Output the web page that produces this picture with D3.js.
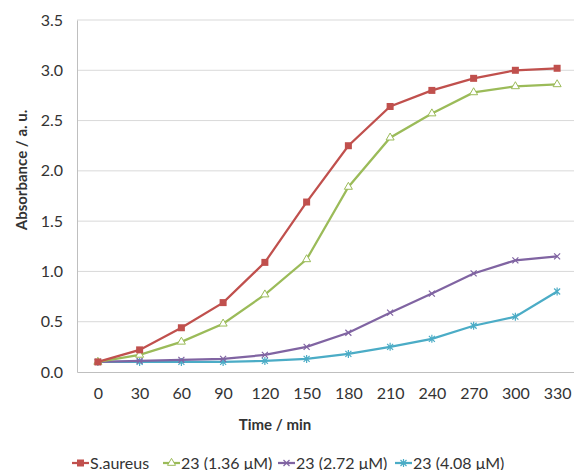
<!DOCTYPE html>
<html>
<head>
<meta charset="utf-8">
<script src="https://cdn.jsdelivr.net/npm/d3@7"></script>
<style>
  body { margin: 0; background: #fff; }
  text { font-family: Lato, "Open Sans", sans-serif; fill: #333; }
</style>
</head>
<body>
<svg id="chart" width="574" height="470"></svg>
<script>
// data
var times = [0, 30, 60, 90, 120, 150, 180, 210, 240, 270, 300, 330];
var saureus = [0.10, 0.22, 0.44, 0.69, 1.09, 1.69, 2.25, 2.64, 2.80, 2.92, 3.00, 3.02];
var c136 = [0.10, 0.17, 0.30, 0.48, 0.77, 1.12, 1.84, 2.33, 2.57, 2.78, 2.84, 2.86];
var c272 = [0.10, 0.11, 0.12, 0.13, 0.17, 0.25, 0.39, 0.59, 0.78, 0.98, 1.11, 1.15];
var c408 = [0.10, 0.10, 0.10, 0.10, 0.11, 0.13, 0.18, 0.25, 0.33, 0.46, 0.55, 0.80];
var seriesNames = ["S.aureus", "23 (1.36 \u03bcM)", "23 (2.72 \u03bcM)", "23 (4.08 \u03bcM)"];
var yTicks = [0, 0.5, 1.0, 1.5, 2.0, 2.5, 3.0, 3.5];

var colors = ["#C0504D", "#9BBB59", "#8064A2", "#4BACC6"];
var markers = ["square", "triangle", "cross", "star"];
var allSeries = [saureus, c136, c272, c408];

var svg = d3.select("#chart");
var plotL = 77, plotR = 578, plotT = 20, plotB = 372;

var x = d3.scalePoint().domain(times).range([plotL, plotR]).padding(0.5);
var y = d3.scaleLinear().domain([0, 3.5]).range([plotB, plotT]);

// gridlines
svg.append("g").selectAll("line").data(yTicks.slice(1)).enter().append("line")
  .attr("x1", plotL).attr("x2", 574)
  .attr("y1", function (d) { return y(d); }).attr("y2", function (d) { return y(d); })
  .attr("stroke", "#D9D9D9").attr("stroke-width", 1);

// axes
var yAxis = svg.append("g").attr("transform", "translate(" + plotL + ",0)")
  .call(d3.axisLeft(y).tickValues(yTicks).tickFormat(d3.format(".1f")).tickSize(0).tickPadding(14));
yAxis.select(".domain").attr("stroke", "#BFBFBF");
yAxis.selectAll("text").style("font-size", "16px").attr("fill", "#333");

var xAxis = svg.append("g").attr("transform", "translate(0," + plotB + ")")
  .call(d3.axisBottom(x).tickSize(0).tickPadding(16));
xAxis.select(".domain").attr("stroke", "#BFBFBF");
xAxis.selectAll("text").style("font-size", "16px").attr("fill", "#333");

// axis titles
svg.append("text").attr("x", 275).attr("y", 430).attr("text-anchor", "middle")
  .style("font-size", "15px").style("font-weight", "bold").text("Time / min");
svg.append("text").attr("transform", "translate(27,170) rotate(-90)").attr("text-anchor", "middle")
  .style("font-size", "15px").style("font-weight", "bold").text("Absorbance / a. u.");

function drawMarker(g, type, color, cx, cy) {
  if (type === "square") {
    g.append("rect").attr("x", cx - 3.5).attr("y", cy - 3.5).attr("width", 7).attr("height", 7).attr("fill", color);
  } else if (type === "triangle") {
    g.append("path").attr("d", d3.symbol().type(d3.symbolTriangle).size(28)())
      .attr("transform", "translate(" + cx + "," + cy + ")")
      .attr("fill", "#fff").attr("stroke", color).attr("stroke-width", 1);
  } else if (type === "cross") {
    g.append("path").attr("d", "M-3,-3L3,3M-3,3L3,-3")
      .attr("transform", "translate(" + cx + "," + cy + ")")
      .attr("stroke", color).attr("stroke-width", 1.2);
  } else {
    g.append("path").attr("d", "M-3,-3L3,3M-3,3L3,-3M0,-4L0,4")
      .attr("transform", "translate(" + cx + "," + cy + ")")
      .attr("stroke", color).attr("stroke-width", 1.2);
  }
}

var line = d3.line()
  .x(function (d, i) { return x(times[i]); })
  .y(function (d) { return y(d); });

// draw in reverse so red sits on top
for (var s = allSeries.length - 1; s >= 0; s--) {
  var g = svg.append("g");
  g.append("path").datum(allSeries[s]).attr("d", line)
    .attr("fill", "none").attr("stroke", colors[s]).attr("stroke-width", 2.25);
  allSeries[s].forEach(function (v, i) {
    drawMarker(g, markers[s], colors[s], x(times[i]), y(v));
  });
}

// legend
var legendX = [72, 163, 278, 395];
var leg = svg.append("g");
seriesNames.forEach(function (name, i) {
  var lx = legendX[i], ly = 463;
  leg.append("line").attr("x1", lx).attr("x2", lx + 17).attr("y1", ly).attr("y2", ly)
    .attr("stroke", colors[i]).attr("stroke-width", 2.25);
  drawMarker(leg, markers[i], colors[i], lx + 8.5, ly);
  leg.append("text").attr("x", lx + 18).attr("y", ly + 5.5).style("font-size", "16px").text(name);
});
</script>
</body>
</html>
